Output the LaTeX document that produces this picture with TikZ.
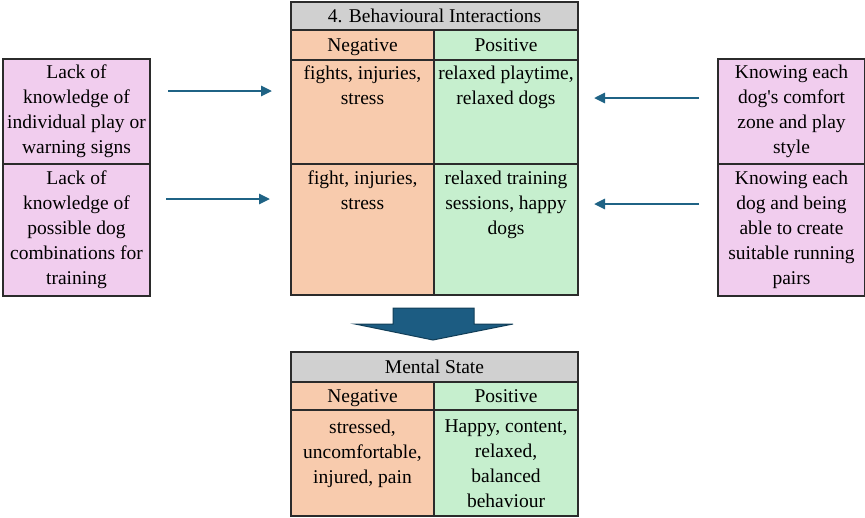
\documentclass[tikz,border=0pt]{standalone}
\usepackage{fontspec}
\setmainfont{Liberation Serif}[Ligatures=TeXOff]
\usetikzlibrary{arrows.meta}

\definecolor{titlegrey}{HTML}{D0D0D0}
\definecolor{negfill}{HTML}{F8CBAD}
\definecolor{posfill}{HTML}{C6EFCE}
\definecolor{factorfill}{HTML}{F1CDEE}
\definecolor{linkcol}{HTML}{1F6385}
\definecolor{bigarrow}{HTML}{1C5C82}
\definecolor{bigedge}{HTML}{123E58}
\definecolor{rule}{HTML}{2B2B2B}

\tikzset{
  cell/.style={draw=rule, line width=1.2pt, anchor=north west, inner sep=0pt, outer sep=0pt},
  factor/.style={cell, fill=factorfill, minimum width=147pt, align=center},
  celltext/.style={anchor=north, inner sep=0pt, align=center},
  headtext/.style={inner sep=0pt, text height=15.6pt, text depth=3pt},
  link/.style={draw=linkcol, line width=2.6pt, -{Triangle[length=11pt,width=10pt]}},
}

\begin{document}
\begin{tikzpicture}[x=1pt,y=-1pt]
\fontsize{19.5}{25}\selectfont
\useasboundingbox (0,0) rectangle (865,517);

% ---- Behavioural interactions table ----
\node[cell, fill=titlegrey, minimum width=287pt, minimum height=28pt] (bt) at (291,2) {};
\node[headtext] (btt) at (bt.center) {4. Behavioural Interactions};
\node[cell, fill=negfill, minimum width=143pt, minimum height=30pt] (bneg) at (291,30) {};
\node[headtext] (bnegt) at (bneg.center) {Negative};
\node[cell, fill=posfill, minimum width=144pt, minimum height=30pt] (bpos) at (434,30) {};
\node[headtext] (bpost) at (bpos.center) {Positive};
\node[cell, fill=negfill, minimum width=143pt, minimum height=104pt] (bn1) at (291,60) {};
\node[cell, fill=posfill, minimum width=144pt, minimum height=104pt] (bp1) at (434,60) {};
\node[cell, fill=negfill, minimum width=143pt, minimum height=131pt] (bn2) at (291,164) {};
\node[cell, fill=posfill, minimum width=144pt, minimum height=131pt] (bp2) at (434,164) {};
\node[celltext] (bn1t) at ([yshift=-6pt]bn1.north) {fights, injuries,\\stress};
\node[celltext] (bp1t) at ([yshift=-6pt]bp1.north) {relaxed playtime,\\relaxed dogs};
\node[celltext] (bn2t) at ([yshift=-7pt]bn2.north) {fight, injuries,\\stress};
\node[celltext] (bp2t) at ([yshift=-7pt]bp2.north) {relaxed training\\sessions, happy\\dogs};

% ---- Influencing factors ----
\node[factor, minimum height=105pt] (l1) at (3,59) {Lack of\\knowledge of\\individual play or\\warning signs};
\node[factor, minimum height=132pt] (l2) at (3,164) {Lack of\\knowledge of\\possible dog\\combinations for\\training};
\node[factor, minimum height=105pt] (r1) at (718,59) {Knowing each\\dog's comfort\\zone and play\\style};
\node[factor, minimum height=132pt] (r2) at (718,164) {Knowing each\\dog and being\\able to create\\suitable running\\pairs};

\draw[link, shorten <=18pt, shorten >=19pt] (l1.east |- 0,91) -- (bn1.west |- 0,91);
\draw[link, shorten <=16pt, shorten >=21pt] (l2.east |- 0,199) -- (bn2.west |- 0,199);
\draw[link, shorten <=19pt, shorten >=16pt] (r1.west |- 0,98) -- (bp1.east |- 0,98);
\draw[link, shorten <=19pt, shorten >=16pt] (r2.west |- 0,204) -- (bp2.east |- 0,204);

% ---- Block arrow between the tables ----
\fill[bigarrow, draw=bigedge, line width=1pt, line join=miter]
  (393,308) -- (474,308) -- (474,324) -- (513,324) -- (433,340) -- (355,324) -- (393,324) -- cycle;

% ---- Mental state table ----
\node[cell, fill=titlegrey, minimum width=287pt, minimum height=30pt] (mt) at (291,352) {};
\node[headtext] (mtt) at (mt.center) {Mental State};
\node[cell, fill=negfill, minimum width=143pt, minimum height=28pt] (mneg) at (291,382) {};
\node[headtext] (mnegt) at (mneg.center) {Negative};
\node[cell, fill=posfill, minimum width=144pt, minimum height=28pt] (mpos) at (434,382) {};
\node[headtext] (mpost) at (mpos.center) {Positive};
\node[cell, fill=negfill, minimum width=143pt, minimum height=106pt] (mn) at (291,410) {};
\node[cell, fill=posfill, minimum width=144pt, minimum height=106pt] (mp) at (434,410) {};
\node[celltext] (mnt) at ([yshift=-10pt]mn.north) {stressed,\\uncomfortable,\\injured, pain};
\node[celltext] (mpt) at ([yshift=-10pt]mp.north) {Happy, content,\\relaxed,\\balanced\\behaviour};
\end{tikzpicture}
\end{document}
